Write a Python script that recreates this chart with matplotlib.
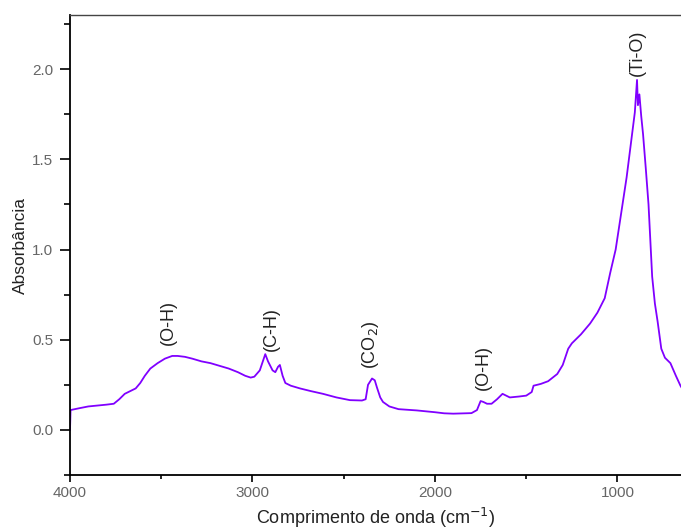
import numpy as np
import matplotlib
matplotlib.use('Agg')
import matplotlib.pyplot as plt
from matplotlib.ticker import MultipleLocator

plt.rcParams['font.family'] = ['Liberation Sans', 'DejaVu Sans']

# FTIR spectrum
wavenumber = [4000, 3997, 3950, 3900, 3850, 3800, 3760, 3730, 3700, 3670, 3640, 3615,
              3590, 3560, 3520, 3480, 3440, 3410, 3370, 3330, 3280, 3230, 3180, 3130,
              3080, 3040, 3010, 2990, 2960, 2940, 2930, 2915, 2890, 2875, 2860, 2850,
              2835, 2820, 2790, 2740, 2680, 2614, 2540, 2466, 2400, 2380, 2367, 2345,
              2330, 2318, 2300, 2285, 2250, 2200, 2100, 2000, 1950, 1900, 1800, 1770,
              1750, 1735, 1715, 1690, 1660, 1630, 1610, 1590, 1540, 1500, 1470, 1460,
              1420, 1380, 1330, 1300, 1270, 1250, 1200, 1150, 1110, 1070, 1040, 1010,
              980, 950, 925, 905, 893, 888, 880, 870, 860, 845, 830, 820, 810, 795,
              780, 760, 740, 710, 680, 655, 640]
absorbance = [0.00, 0.11, 0.12, 0.13, 0.135, 0.14, 0.145, 0.17, 0.20, 0.215, 0.23, 0.26,
              0.30, 0.34, 0.37, 0.395, 0.41, 0.41, 0.405, 0.395, 0.38, 0.37, 0.355, 0.34,
              0.32, 0.30, 0.29, 0.295, 0.33, 0.39, 0.42, 0.38, 0.33, 0.32, 0.35, 0.36,
              0.30, 0.26, 0.245, 0.23, 0.215, 0.20, 0.18, 0.165, 0.163, 0.17, 0.25, 0.285,
              0.275, 0.235, 0.18, 0.155, 0.13, 0.115, 0.108, 0.098, 0.092, 0.09, 0.093, 0.11,
              0.16, 0.155, 0.145, 0.145, 0.17, 0.20, 0.19, 0.18, 0.185, 0.19, 0.21, 0.245,
              0.255, 0.27, 0.31, 0.36, 0.45, 0.48, 0.53, 0.59, 0.65, 0.73, 0.87, 1.0,
              1.2, 1.40, 1.60, 1.76, 1.94, 1.80, 1.86, 1.74, 1.64, 1.45, 1.25, 1.05, 0.85, 0.70,
              0.60, 0.45, 0.40, 0.37, 0.30, 0.245, 0.22]

# band labels
band_labels = ['(O-H)', '(C-H)', '(CO$_2$)', '(O-H)', '(Ti-O)']
band_x = [3460, 2895, 2355, 1737, 893]
band_y = [0.47, 0.44, 0.34, 0.22, 1.96]

fig = plt.figure(figsize=(6.81, 5.29), dpi=100)
ax = fig.add_axes([70 / 681, 54 / 529, 611 / 681, 460 / 529])

ax.plot(wavenumber, absorbance, color='#8000ff', lw=1.3)

for lab, bx, by in zip(band_labels, band_x, band_y):
    ax.text(bx, by, lab, rotation=90, ha='center', va='bottom', fontsize=13, color='#222222')

ax.set_xlim(4000, 652)
ax.set_ylim(-0.25, 2.3)
ax.xaxis.set_major_locator(MultipleLocator(1000))
ax.xaxis.set_minor_locator(MultipleLocator(500))
ax.yaxis.set_major_locator(MultipleLocator(0.5))
ax.yaxis.set_minor_locator(MultipleLocator(0.25))
ax.yaxis.set_major_formatter(matplotlib.ticker.FormatStrFormatter('%.1f'))

ax.spines['right'].set_visible(False)
for s in ['left', 'bottom']:
    ax.spines[s].set_linewidth(1.3)
ax.spines['top'].set_linewidth(1.0)
ax.spines['top'].set_color('#444444')

ax.tick_params(axis='x', which='major', direction='out', length=5, width=1.2, labelsize=11, labelcolor='#666666', pad=3)
ax.tick_params(axis='x', which='minor', direction='out', length=3, width=1.2)
ax.tick_params(axis='y', which='major', direction='out', length=7, width=1.2, labelsize=11, labelcolor='#666666', pad=5)
ax.tick_params(axis='y', which='minor', direction='out', length=4.5, width=1.2)

ax.set_xlabel('Comprimento de onda (cm$^{-1}$)', fontsize=13, color='#222222', labelpad=4)
ax.set_ylabel('Absorbância', fontsize=12.5, color='#222222', labelpad=3)

fig.savefig('out.png', dpi=100)
